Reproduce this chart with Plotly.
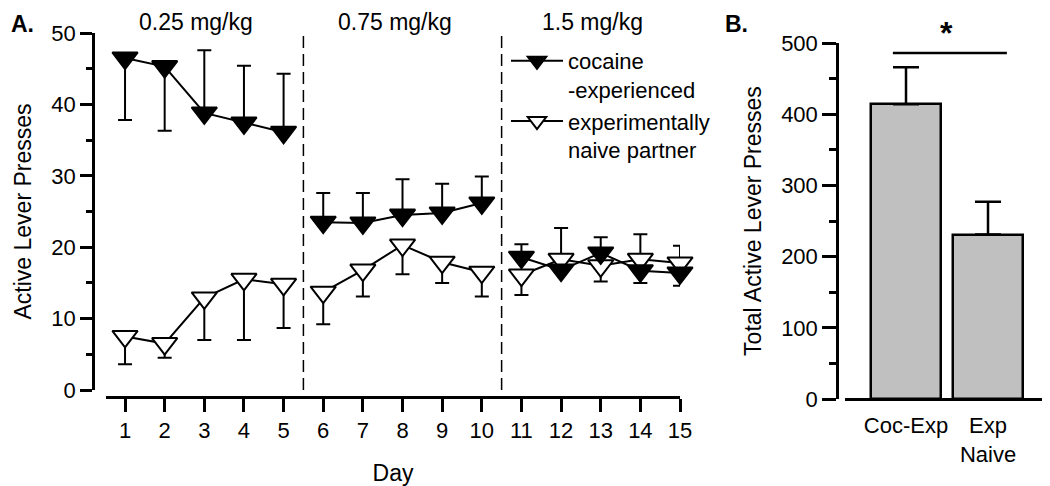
import plotly.graph_objects as go

# ---------------- data ----------------
days = list(range(1, 16))
dose_labels = ["0.25 mg/kg", "0.75 mg/kg", "1.5 mg/kg"]
dose_blocks = [(0, 5), (5, 10), (10, 15)]

coc_mean = [46.5, 45.3, 38.8, 37.4, 36.1, 23.5, 23.4, 24.5, 24.8, 26.2, 18.6, 16.8, 19.2, 16.7, 16.4]
coc_err_up = [0, 0, 8.8, 8.0, 8.2, 4.1, 4.2, 5.0, 4.1, 3.7, 1.8, 0, 2.2, 0, 0]
coc_err_dn = [8.7, 9.0, 0, 0, 0, 0, 0, 0, 0, 0, 0, 0, 0, 1.7, 1.8]

naive_mean = [7.5, 6.5, 12.9, 15.5, 14.8, 13.7, 16.8, 20.3, 17.9, 16.5, 16.1, 18.3, 17.4, 18.3, 17.8]
naive_err_up = [0, 0, 0, 0, 0, 0, 0, 0, 0, 0, 0, 4.4, 0, 3.5, 2.4]
naive_err_dn = [3.9, 2.0, 5.9, 8.5, 6.1, 4.5, 3.7, 4.1, 2.9, 3.4, 2.8, 0, 2.2, 0, 0]

groups_b = ["Coc-Exp", "Exp<br>Naive"]
total_mean = [414, 231]
total_err = [52, 46]

OFF = 8  # default page margin around the plot div
W, H = 1050 - OFF, 486 - OFF
FONT = "Liberation Sans, Arial, sans-serif"
px = lambda x: (x - OFF) / W
py = lambda y: 1 - (y - OFF) / H


def with_gaps(arr, gap=None):
    out = []
    for i, (a, b) in enumerate(dose_blocks):
        if i:
            out.append(gap)
        out.extend(arr[a:b])
    return out


fig = go.Figure()

# naive first (drawn below), cocaine on top
fig.add_trace(go.Scatter(
    x=with_gaps(days), y=with_gaps(naive_mean),
    mode="lines+markers", name="experimentally<br>naive partner", legendrank=2,
    line=dict(color="black", width=2),
    marker=dict(symbol="triangle-down", size=22, color="white",
                line=dict(color="black", width=2)),
    error_y=dict(type="data", symmetric=False, array=with_gaps(naive_err_up, 0),
                 arrayminus=with_gaps(naive_err_dn, 0), color="black", thickness=2, width=7),
    cliponaxis=False, xaxis="x", yaxis="y",
))
fig.add_trace(go.Scatter(
    x=with_gaps(days), y=with_gaps(coc_mean),
    mode="lines+markers", name="cocaine<br>-experienced", legendrank=1,
    line=dict(color="black", width=2),
    marker=dict(symbol="triangle-down", size=22, color="black",
                line=dict(color="black", width=2)),
    error_y=dict(type="data", symmetric=False, array=with_gaps(coc_err_up, 0),
                 arrayminus=with_gaps(coc_err_dn, 0), color="black", thickness=2, width=7),
    cliponaxis=False, xaxis="x", yaxis="y",
))

# Panel B bars
fig.add_trace(go.Bar(
    x=[0, 1], y=total_mean, width=0.854, showlegend=False,
    marker=dict(color="#c0c0c0", line=dict(color="black", width=2.5)),
    error_y=dict(type="data", symmetric=False, array=total_err, arrayminus=[0, 0],
                 color="black", thickness=2.5, width=13),
    xaxis="x2", yaxis="y2", cliponaxis=False,
))

axis_common = dict(showline=True, linecolor="black", linewidth=2.5, ticks="outside",
                   tickcolor="black", tickwidth=2.5, showgrid=False, zeroline=False,
                   automargin=False,
                   tickfont=dict(family=FONT, size=22, color="black"),
                   title_font=dict(family=FONT, size=23, color="black"))

fig.update_layout(
    width=W, height=H, margin=dict(l=0, r=0, t=0, b=0, autoexpand=False),
    plot_bgcolor="white", paper_bgcolor="white",
    font=dict(family=FONT, size=22, color="black"),
    xaxis=dict(axis_common, domain=[px(106), px(680)], range=[0.52, 15], anchor="free",
               position=py(397), tickvals=days, ticklen=13, title_text="Day", title_standoff=23),
    yaxis=dict(axis_common, domain=[py(390), py(33)], range=[0, 50], anchor="free",
               position=px(93), tickvals=[0, 10, 20, 30, 40, 50], ticklen=12,
               minor=dict(dtick=5, ticklen=6, tickwidth=2.5, ticks="outside", tickcolor="black"),
               title_text="Active Lever Presses", title_standoff=12),
    xaxis2=dict(axis_common, domain=[px(845), 1.0], range=[-0.744, 1.756], anchor="free",
                position=py(399), ticks="", tickvals=[0, 1], ticktext=groups_b,
                ticklabelstandoff=6),
    yaxis2=dict(axis_common, domain=[py(399), py(43)], range=[0, 500], anchor="free",
                position=px(837), tickvals=[0, 100, 200, 300, 400, 500], ticklen=14,
                minor=dict(dtick=50, ticklen=7, tickwidth=2.5, ticks="outside", tickcolor="black"),
                title_text="Total Active Lever Presses", title_standoff=12),
    legend=dict(x=px(506), y=py(40), xanchor="left", yanchor="top", bgcolor="rgba(0,0,0,0)",
                font=dict(family=FONT, size=22, color="black"), itemwidth=52, valign="top"),
    bargap=0,
)

# dose boundaries
for b in [5.5, 10.5]:
    fig.add_shape(type="line", xref="x", yref="y", x0=b, x1=b, y0=0, y1=50,
                  line=dict(color="black", width=1.5, dash="12px,6px"))

# dose labels
for (a, b), lab in zip(dose_blocks, dose_labels):
    fig.add_annotation(text=lab, xref="x", yref="paper", x=(days[a] + days[b - 1]) / 2 - 0.2,
                       y=py(22), xanchor="center", yanchor="middle", showarrow=False,
                       font=dict(family=FONT, size=23, color="black"))

# significance bracket
fig.add_shape(type="line", xref="x2", yref="y2", x0=-0.16, x1=1.23, y0=486, y1=486,
              line=dict(color="black", width=2.5))
fig.add_annotation(text="<b>*</b>", xref="x2", yref="y2", x=0.49, y=486, yanchor="bottom",
                   xanchor="center", showarrow=False, font=dict(family=FONT, size=32, color="black"))

# panel letters
fig.add_annotation(text="<b>A.</b>", xref="paper", yref="paper", x=px(9), y=py(24), xanchor="left",
                   yanchor="middle", showarrow=False, font=dict(family=FONT, size=23, color="black"))
fig.add_annotation(text="<b>B.</b>", xref="paper", yref="paper", x=px(723), y=py(24), xanchor="left",
                   yanchor="middle", showarrow=False, font=dict(family=FONT, size=23, color="black"))

fig.write_html("out.html")
